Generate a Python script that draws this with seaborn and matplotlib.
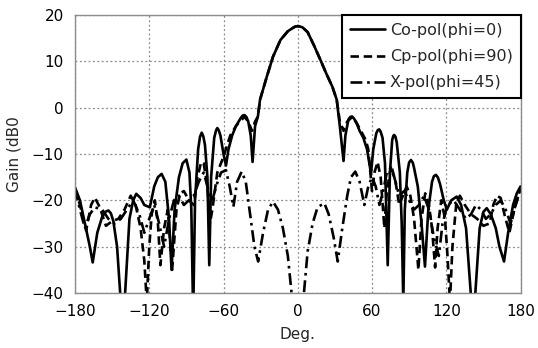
import numpy as np
import pandas as pd
import matplotlib
matplotlib.use("Agg")
import matplotlib.pyplot as plt
import seaborn as sns

# ---- Data ----
co_deg = [-180, -176, -172, -168, -165.7, -162, -158, -155, -153, -151, -149, -146, -143.5, -141.5, -139.5,
          -136, -133, -130.5, -127, -124, -119.5, -116, -113, -110, -107, -104, -102, -99.5,
          -96, -93, -90, -87.5, -86, -84.5, -83, -80.5, -79, -77.6, -76.3, -75, -73, -71.5, -70, -67.5, -66,
          -65, -63.8, -62.5, -60, -58, -56, -53, -50, -46, -44.5, -43, -41.5, -40, -38, -36.5, -34.5, -32.2,
          -30.5, -25, -20, -14, -8, -4, -2, 0, 2, 4, 8, 13, 18, 23, 28, 31.5, 34, 37,
          38.5, 41, 42.5, 43.8, 45, 47, 50, 53, 56, 59.2, 61, 63.5, 64.8, 65.9, 67, 68.5, 70.5, 72.7, 74.5,
          76.3, 77.2, 78, 79, 80, 82.5, 84, 85.3, 86.5, 88.5, 90, 91.5, 93, 94, 97, 100, 102.8, 105.5,
          108.5, 110, 111.7, 113.3, 115, 118, 120.5, 124, 128.4, 132, 136, 139.8, 141.8, 143.5,
          147, 150, 152.7, 156, 160, 163, 166.7, 170, 174, 177, 180]
co_gain = [-17.2, -20, -25, -30, -33.4, -27, -23.5, -22.4, -22.2, -22.8, -24.5, -30, -40, -46, -40,
           -24, -20, -18.6, -19.5, -21, -21.5, -17, -15, -14.3, -16, -24, -35, -22,
           -15, -12, -11.2, -14, -22, -45, -20, -9, -6.3, -5.4, -6.2, -8, -15, -34, -15, -6.5, -4.9,
           -4.4, -4.9, -6, -10, -12.5, -9, -6, -4, -2.2, -1.7, -1.6, -2, -3, -6, -11.7, -4, -1.9,
           1.7, 6.7, 11, 14.6, 16.5, 17.2, 17.5, 17.6, 17.5, 17.3, 16.3, 13.5, 10.5, 7.4, 4.5, 1.7, -4, -11.5,
           -6, -2.5, -2, -1.9, -2.2, -3, -5, -6.5, -9, -14.2, -9, -5.5, -4.8, -4.7, -5.2, -6.5, -12, -34, -14,
           -7, -6.1, -5.9, -6.3, -7.5, -14, -25, -42, -22, -14, -11.8, -11.3, -11.9, -13, -17, -25, -34.3, -22,
           -16, -14.8, -14.5, -15.1, -16.5, -20, -22, -20, -19.2, -21, -26, -40, -46, -40,
           -26, -22.5, -21.7, -23, -26, -30, -33.2, -27, -21, -18.5, -17]

cp_deg = [-180, -176, -171, -167, -164, -160, -155, -150, -145, -140, -135, -131, -127,
          -124, -122, -120, -118, -115.5, -113, -111, -108, -105, -101.5, -98, -95, -92,
          -88, -84, -81, -78, -76, -73, -71, -69, -65, -60, -57, -54.5, -50, -47, -43,
          -40, -37, -34.5, -32.2, -30.5, -25, -20, -14, -8, -4, -2, 0, 2, 4, 8, 13, 18, 23, 28,
          31.5, 34, 37, 40, 44, 48, 52, 55, 57, 60, 62, 64.5, 67, 70, 72, 75.5, 79, 82,
          85, 88, 91, 94, 97.5, 100, 103, 106, 108.5, 111, 113, 116, 119, 121, 123, 125,
          128, 131, 135, 140, 145, 150, 155, 158, 161, 164, 167, 171, 175, 180]
cp_gain = [-17.5, -21, -26.5, -21, -19.4, -21.5, -25.5, -24.5, -24, -22, -19, -21, -26,
           -33, -42, -30, -23, -20, -25, -34, -26, -22, -35, -22, -18.5, -18,
           -20, -21, -15, -11.7, -12, -17, -25, -22, -14, -10.6, -8, -6, -4, -3, -2,
           -3, -5, -3, -1.9, 1.7, 6.7, 11, 14.6, 16.5, 17.2, 17.5, 17.6, 17.5, 17.3, 16.3, 13.5, 10.5, 7.4, 4.5,
           1.7, -3, -5, -3, -2, -3.5, -5.5, -7, -9, -18, -14, -11.7, -15, -26, -18, -12.4, -16, -21,
           -19, -17, -19, -24, -35, -24, -18.5, -21, -26, -34.5, -26, -20, -24, -32, -42, -30,
           -21, -19, -21, -23, -24, -25.5, -25, -21, -19, -19.5, -23, -27, -22, -17.5]

x_deg = [-180, -176, -172, -168, -164, -158, -153, -148, -143, -138, -133, -128, -124,
         -120, -116, -112, -108, -104, -100, -96, -92, -88, -84, -80, -76, -72, -69, -66,
         -62, -58, -55, -52, -49, -45.3, -42, -38, -35, -32, -28, -24, -20, -16, -12, -8,
         -5, -2, 0, 2, 5, 8, 12, 16, 21.5, 25, 29, 32.3, 36, 40, 43, 46.5, 50, 53.8, 57,
         60, 63, 66, 69, 72, 75, 78, 82, 86, 90, 94, 98, 102, 106, 110, 114, 117, 121,
         126, 131, 136, 140, 144, 148, 152, 156, 160, 164, 168, 172, 176, 180]
x_gain = [-17.5, -22, -26, -23, -21.5, -22, -24, -25, -24, -22, -20, -23, -27,
          -24, -21, -25, -30, -24, -20, -19, -21, -20, -19, -16, -14, -18, -20, -17,
          -14, -13.5, -17, -21.4, -16, -13.8, -16, -24, -30, -33.2, -27, -22, -20.3, -22, -26, -32,
          -40, -46, -48, -46, -40, -31, -25, -21.5, -20.6, -23, -28, -33.2, -26, -19, -15, -13.8, -16, -21, -17,
          -15, -17, -21, -18, -14, -13, -15, -19, -18, -20, -22, -21, -19, -22, -28, -32, -25, -21,
          -20, -22, -24, -23, -21, -22, -24, -23, -21, -20, -22, -25, -21, -17.5]

labels = ["Co-pol(phi=0)", "Cp-pol(phi=90)", "X-pol(phi=45)"]
x_ticks = [-180, -120, -60, 0, 60, 120, 180]
y_ticks = [-40, -30, -20, -10, 0, 10, 20]

# ---- Plot ----
sns.set_theme(style="white")
plt.rcParams['font.family'] = ['DejaVu Sans']

fig = plt.figure(figsize=(5.38, 3.48), dpi=100)
ax = fig.add_axes([75 / 538, 1 - 293 / 348, 445.5 / 538, 278 / 348])

sns.lineplot(x=co_deg, y=co_gain, ax=ax, color="black", linewidth=1.9,
             linestyle="-", label=labels[0], estimator=None, sort=False)
sns.lineplot(x=cp_deg, y=cp_gain, ax=ax, color="black", linewidth=1.9,
             linestyle=(0, (3.2, 1.8)), label=labels[1], estimator=None, sort=False)
sns.lineplot(x=x_deg, y=x_gain, ax=ax, color="black", linewidth=1.9,
             linestyle=(0, (4.5, 1.8, 1.0, 1.8)), label=labels[2], estimator=None, sort=False)

ax.set_xlim(-180, 180)
ax.set_ylim(-40, 20)
ax.set_xticks(x_ticks)
ax.set_yticks(y_ticks)
ax.grid(True, color="#8a8a8a", linestyle=(0, (1.5, 2.0)), linewidth=0.9)
for s in ax.spines.values():
    s.set_color("#8c8c8c")
    s.set_linewidth(1.0)
ax.tick_params(axis="both", direction="out", length=4, width=1, color="#8c8c8c",
               labelsize=11, labelcolor="black", pad=4)
ax.set_xlabel("Deg.", fontsize=11, labelpad=6)
ax.set_ylabel("Gain (dB0", fontsize=11, labelpad=7.5)

leg = ax.legend(loc="upper right", fontsize=11.5, frameon=True, fancybox=False,
                framealpha=1, edgecolor="black", borderaxespad=0, handlelength=2.2,
                handletextpad=0.3, labelspacing=0.7, borderpad=0.5)
leg.get_frame().set_linewidth(1.5)

fig.savefig("out.png", dpi=100)
